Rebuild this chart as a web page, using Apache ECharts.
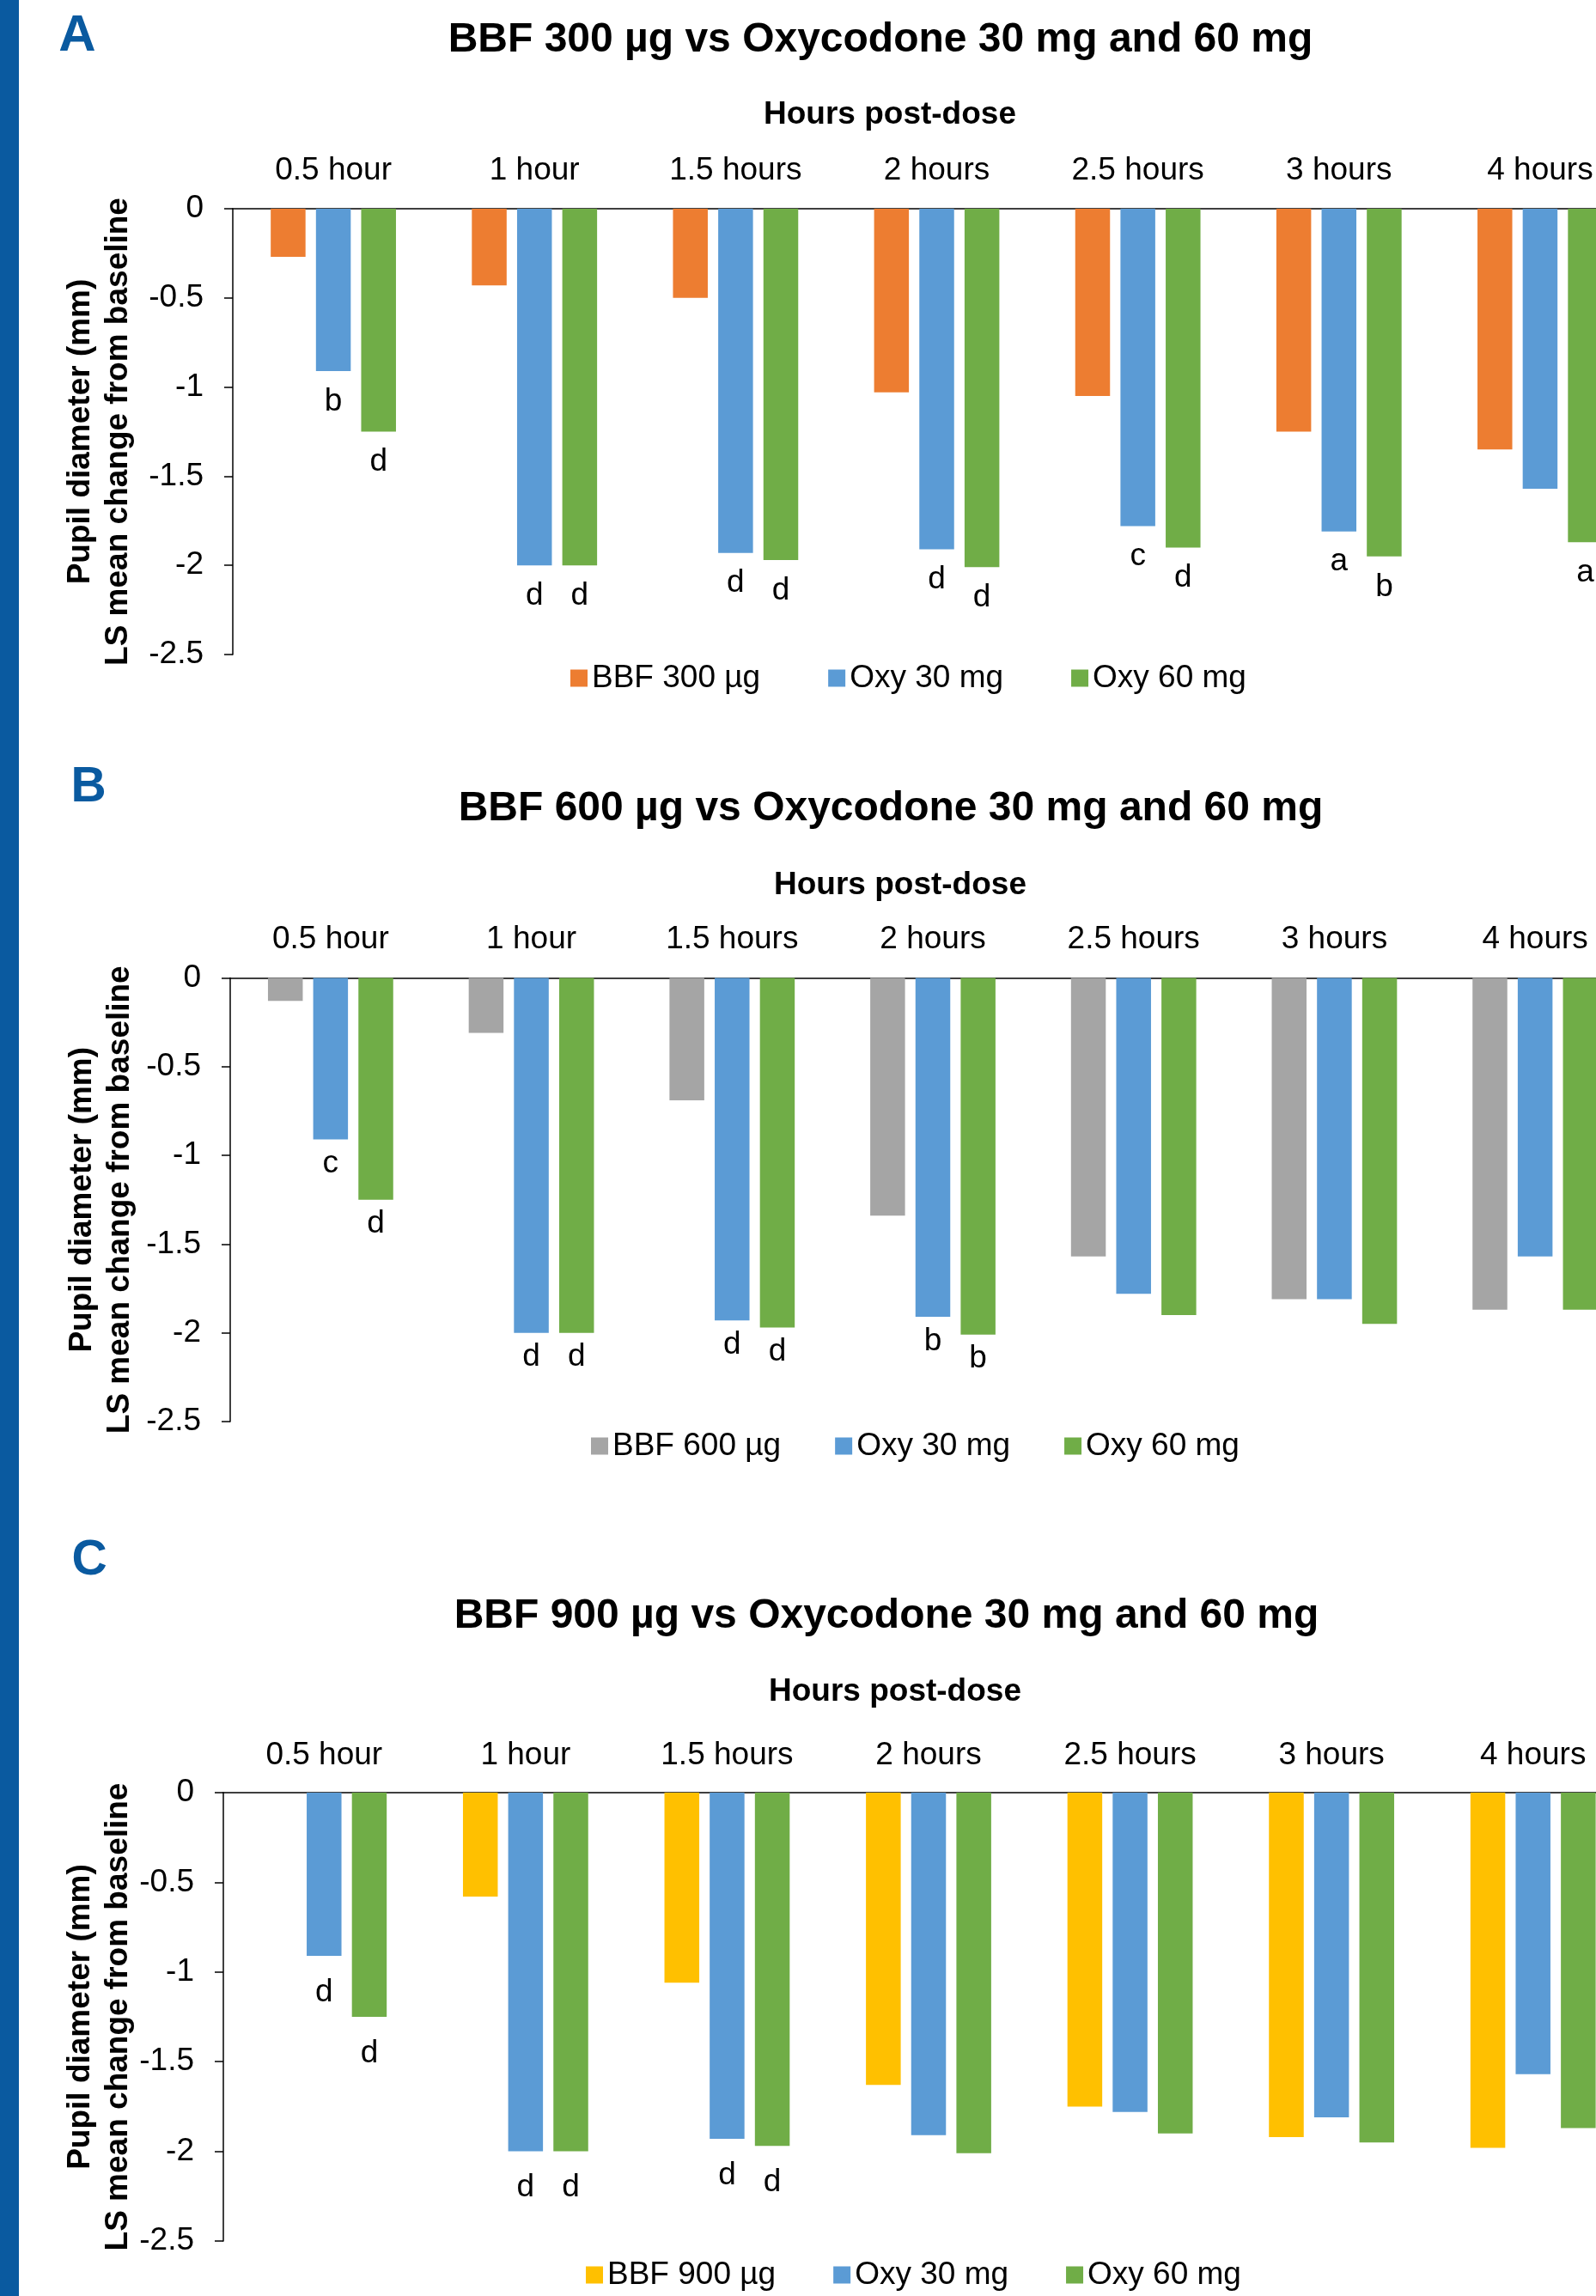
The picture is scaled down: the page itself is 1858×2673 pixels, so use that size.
<!DOCTYPE html>
<html>
<head>
<meta charset="utf-8">
<script src="https://cdn.jsdelivr.net/npm/echarts@6/dist/echarts.min.js"></script>
<style>
  html, body { margin: 0; padding: 0; background: #fff; }
  #chart { width: 1858px; height: 2673px; }
</style>
</head>
<body>
<div id="chart"></div>
<script>
const hours = ['0.5 hour', '1 hour', '1.5 hours', '2 hours', '2.5 hours', '3 hours', '4 hours'];

// LS mean change from baseline (mm)
const bbf300 = [-0.27, -0.43, -0.50, -1.03, -1.05, -1.25, -1.35];
const bbf600 = [-0.13, -0.31, -0.69, -1.34, -1.57, -1.81, -1.87];
const bbf900 = [0, -0.58, -1.06, -1.63, -1.75, -1.92, -1.98];
const oxy30 = [-0.91, -2.00, -1.93, -1.91, -1.78, -1.81, -1.57];
const oxy60 = [-1.25, -2.00, -1.97, -2.01, -1.90, -1.95, -1.87];

// significance letters under the oxycodone bars
const sigA30 = ['b', 'd', 'd', 'd', 'c', 'a', ''];
const sigA60 = ['d', 'd', 'd', 'd', 'd', 'b', 'a'];
const sigB30 = ['c', 'd', 'd', 'b', '', '', ''];
const sigB60 = ['d', 'd', 'd', 'b', '', '', ''];
const sigC30 = ['d', 'd', 'd', '', '', '', ''];
const sigC60 = ['d', 'd', 'd', '', '', '', ''];

const FONT = '"Liberation Sans", Arial, sans-serif';
const STRIPE = '#0a5aa0';

const panels = [
  {
    letter: 'A', title: 'BBF 300 µg vs Oxycodone 30 mg and 60 mg',
    bbfName: 'BBF 300 µg', bbf: bbf300, bbfColor: '#ED7D31', sig30: sigA30, sig60: sigA60,
    grid: { left: 271, top: 243, width: 1639, height: 519 },
    letterPos: [90, 42], letterSize: 60, titlePos: [1025, 47], hoursPos: [1036, 134],
    labelMargin: 26, nameGap: 111, sigGap: 17, legendLeft: 664, legendTop: 771, legendGap: 79
  },
  {
    letter: 'B', title: 'BBF 600 µg vs Oxycodone 30 mg and 60 mg',
    bbfName: 'BBF 600 µg', bbf: bbf600, bbfColor: '#A5A5A5', sig30: sigB30, sig60: sigB60,
    grid: { left: 268, top: 1138.5, width: 1636, height: 516.5 },
    letterPos: [103, 917], letterSize: 57, titlePos: [1037, 942], hoursPos: [1048, 1031],
    labelMargin: 26, nameGap: 106, sigGap: 10, legendLeft: 688, legendTop: 1665, legendGap: 63
  },
  {
    letter: 'C', title: 'BBF 900 µg vs Oxycodone 30 mg and 60 mg',
    bbfName: 'BBF 900 µg', bbf: bbf900, bbfColor: '#FFC000', sig30: sigC30, sig60: sigC60,
    grid: { left: 260, top: 2087, width: 1642, height: 522 },
    letterPos: [104, 1817], letterSize: 57, titlePos: [1032, 1882], hoursPos: [1042, 1970],
    labelMargin: 25, nameGap: 100, sigGap: 24, legendLeft: 682, legendTop: 2630, legendGap: 67
  }
];

const grids = [], xAxes = [], yAxes = [], series = [], legends = [];
const graphics = [
  { type: 'rect', shape: { x: 0, y: 0, width: 22, height: 2673 }, style: { fill: STRIPE } }
];

function textEl(text, pos, font, fill) {
  return {
    type: 'text', x: pos[0], y: pos[1],
    style: {
      text: text, font: font, fill: fill,
      align: 'center', verticalAlign: 'middle',
      textAlign: 'center', textVerticalAlign: 'middle'
    }
  };
}

panels.forEach((p, i) => {
  grids.push(Object.assign({ outerBoundsMode: 'none', containLabel: false }, p.grid));

  xAxes.push({
    type: 'category', gridIndex: i, data: hours, position: 'top',
    axisLine: { show: true, lineStyle: { color: '#000', width: 1.5 } },
    axisTick: { show: false },
    splitLine: { show: false },
    axisLabel: { interval: 0, margin: p.labelMargin, fontSize: 37, color: '#000', fontFamily: FONT }
  });

  yAxes.push({
    type: 'value', gridIndex: i, min: -2.5, max: 0, interval: 0.5,
    name: 'Pupil diameter (mm)\nLS mean change from baseline',
    nameLocation: 'middle', nameRotate: 90, nameGap: p.nameGap, nameMoveOverlap: false,
    nameTextStyle: { fontSize: 37, fontWeight: 'bold', lineHeight: 44, color: '#000', fontFamily: FONT },
    axisLine: { show: true, onZero: false, lineStyle: { color: '#000', width: 1.5 } },
    axisTick: { show: true, inside: false, length: 10, lineStyle: { color: '#000', width: 1.5 } },
    splitLine: { show: false },
    axisLabel: { margin: 34, fontSize: 37, color: '#000', fontFamily: FONT }
  });

  const sigLabel = (letters) => ({
    show: true, position: 'bottom', distance: p.sigGap,
    fontSize: 37, color: '#000', fontFamily: FONT,
    formatter: (d) => letters[d.dataIndex]
  });

  const common = { type: 'bar', xAxisIndex: i, yAxisIndex: i, barWidth: 40.5, barGap: '30%', animation: false };
  series.push(Object.assign({}, common, {
    name: p.bbfName, data: p.bbf, itemStyle: { color: p.bbfColor }
  }));
  series.push(Object.assign({}, common, {
    name: 'Oxy 30 mg', data: oxy30, itemStyle: { color: '#5B9BD5' }, label: sigLabel(p.sig30)
  }));
  series.push(Object.assign({}, common, {
    name: 'Oxy 60 mg', data: oxy60, itemStyle: { color: '#70AD47' }, label: sigLabel(p.sig60)
  }));

  legends.push({
    left: p.legendLeft, top: p.legendTop, padding: 0,
    itemWidth: 20, itemHeight: 20, itemGap: p.legendGap, icon: 'rect', selectedMode: false,
    data: [p.bbfName, 'Oxy 30 mg', 'Oxy 60 mg'],
    textStyle: { fontSize: 37, color: '#000', fontFamily: FONT }
  });

  graphics.push(textEl(p.letter, p.letterPos, 'bold ' + p.letterSize + 'px ' + FONT, STRIPE));
  graphics.push(textEl(p.title, p.titlePos, 'bold 48px ' + FONT, '#000'));
  graphics.push(textEl('Hours post-dose', p.hoursPos, 'bold 37px ' + FONT, '#000'));
});

const chart = echarts.init(document.getElementById('chart'), null, { renderer: 'canvas' });
chart.setOption({
  animation: false,
  backgroundColor: '#fff',
  textStyle: { fontFamily: FONT },
  grid: grids,
  xAxis: xAxes,
  yAxis: yAxes,
  legend: legends,
  series: series,
  graphic: graphics
});
</script>
</body>
</html>
